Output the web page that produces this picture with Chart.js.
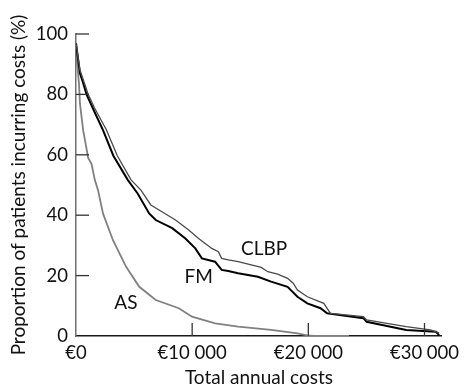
<!DOCTYPE html>
<html>
<head>
<meta charset="utf-8">
<script src="https://cdn.jsdelivr.net/npm/chart.js@4.4.0/dist/chart.umd.min.js"></script>
<style>
  html, body { margin: 0; padding: 0; background: #fff; }
  #wrap { width: 466px; height: 389px; }
</style>
</head>
<body>
<div id="wrap"><canvas id="chart" width="466" height="389"></canvas></div>
<script>
// valores (coste anual en €, % de pacientes)
const clbpCost = [0, 350, 700, 1047, 1600, 2621, 3557, 4738, 5589, 6440, 7149, 8567, 9702, 10553, 11688, 12255, 12539, 13106, 13957, 15943, 16511, 17362, 18213, 18700, 19064, 19915, 21333, 21901, 24738, 25021, 28426, 30500, 31262];
const clbpPct  = [97, 88, 84, 80, 75.5, 68.2, 59.7, 51.7, 48.3, 43.4, 41.7, 38.4, 35.1, 32.3, 29.0, 27.9, 25.7, 25.2, 24.6, 22.7, 21.3, 20.5, 19.1, 17.5, 15.2, 13.0, 10.8, 7.5, 6.4, 5.3, 3.1, 2.0, 1.0];

const fmCost = [0, 340, 620, 910, 1500, 2323, 3217, 4454, 5306, 6298, 6865, 8284, 9418, 10270, 10837, 11972, 12539, 13106, 13957, 15660, 16794, 18213, 18496, 19064, 19915, 21049, 21617, 24738, 25021, 28426, 30979, 31262];
const fmPct  = [97, 87, 83.7, 80, 75, 68.2, 59.7, 51.7, 47.2, 40.6, 38.4, 35.7, 32.3, 29.0, 25.7, 24.6, 21.9, 21.5, 20.8, 19.6, 18.0, 16.3, 15.2, 13.0, 10.8, 9.2, 7.5, 5.9, 4.7, 2.0, 1.4, 0.3];

const asCost = [0, 100, 250, 340, 620, 766, 1047, 1336, 1617, 1898, 2323, 3174, 4315, 5447, 6868, 8851, 9983, 11974, 13957, 16791, 19064, 19915, 20500, 23500];
const asPct  = [97, 90, 84, 77, 68, 65, 59, 57, 51.7, 48.3, 40.6, 31.8, 22.9, 16.3, 11.9, 9.2, 6.4, 4.2, 3.1, 2.0, 0.9, 0.2, 0, 0];

const xTicks = [0, 10000, 20000, 30000];
const yTicks = [0, 20, 40, 60, 80, 100];

// etiquetas de las curvas (posición en unidades de datos)
const curveLabels = [
  { text: 'CLBP', x: 16200, y: 29.0 },
  { text: 'FM', x: 10553, y: 19.5 },
  { text: 'AS', x: 4300, y: 10.9 }
];

const FONT = 'Lato, "Open Sans", sans-serif';

const toPoints = (xs, ys) => xs.map((x, i) => ({ x: x, y: ys[i] }));

const formatEuro = (v) => '€' + String(v).replace(/\B(?=(\d{3})+(?!\d))/g, ' ');

// marcas de eje hacia dentro + etiquetas de las curvas
const extras = {
  id: 'extras',
  afterDatasetsDraw(chart) {
    const { ctx, scales: { x, y } } = chart;
    const tick = 13;
    ctx.save();
    ctx.lineWidth = 1.3;
    ctx.strokeStyle = '#333';
    yTicks.forEach(v => {
      if (v === 0) return;
      const py = y.getPixelForValue(v);
      ctx.beginPath();
      ctx.moveTo(x.left, py);
      ctx.lineTo(x.left + tick, py);
      ctx.stroke();
    });
    xTicks.forEach(v => {
      if (v === 0) return;
      const px = x.getPixelForValue(v);
      ctx.beginPath();
      ctx.moveTo(px, y.bottom);
      ctx.lineTo(px, y.bottom - tick);
      ctx.stroke();
    });
    ctx.fillStyle = '#111';
    ctx.font = '19px ' + FONT;
    ctx.textAlign = 'center';
    ctx.textBaseline = 'middle';
    curveLabels.forEach(l => {
      ctx.fillText(l.text, x.getPixelForValue(l.x), y.getPixelForValue(l.y));
    });
    ctx.restore();
  }
};

new Chart(document.getElementById('chart'), {
  type: 'line',
  data: {
    datasets: [
      {
        label: 'CLBP',
        data: toPoints(clbpCost, clbpPct),
        borderColor: '#4a4a4a',
        borderWidth: 1.3,
        pointRadius: 0,
        tension: 0
      },
      {
        label: 'FM',
        data: toPoints(fmCost, fmPct),
        borderColor: '#000',
        borderWidth: 2,
        pointRadius: 0,
        tension: 0
      },
      {
        label: 'AS',
        data: toPoints(asCost, asPct),
        borderColor: '#808080',
        borderWidth: 1.8,
        pointRadius: 0,
        tension: 0
      }
    ]
  },
  options: {
    responsive: false,
    animation: false,
    layout: { padding: { left: 0, top: 34, right: 20, bottom: 0 } },
    plugins: { legend: { display: false }, tooltip: { enabled: false } },
    scales: {
      x: {
        type: 'linear',
        min: 0,
        max: 31500,
        afterBuildTicks: (s) => { s.ticks = xTicks.map(v => ({ value: v })); },
        afterFit: (s) => { s.height = 53; },
        grid: { display: false, drawTicks: false },
        border: { display: true, color: '#1a1a1a', width: 1.5 },
        ticks: {
          color: '#111',
          padding: 6,
          maxRotation: 0,
          font: { family: FONT, size: 18.5 },
          callback: (v) => formatEuro(v)
        },
        title: {
          display: true,
          text: 'Total annual costs',
          color: '#111',
          font: { family: FONT, size: 19 },
          padding: { top: 0, bottom: 0 }
        }
      },
      y: {
        min: 0,
        max: 100,
        afterBuildTicks: (s) => { s.ticks = yTicks.map(v => ({ value: v })); },
        afterFit: (s) => { s.width = 76; },
        grid: { display: false, drawTicks: false },
        border: { display: true, color: '#707070', width: 1.5 },
        ticks: {
          color: '#111',
          padding: 8,
          font: { family: FONT, size: 18.5 }
        },
        title: {
          display: true,
          text: 'Proportion of patients incurring costs (%)',
          color: '#111',
          font: { family: FONT, size: 19 },
          padding: { top: 7, bottom: 0 }
        }
      }
    }
  },
  plugins: [extras]
});
</script>
</body>
</html>
